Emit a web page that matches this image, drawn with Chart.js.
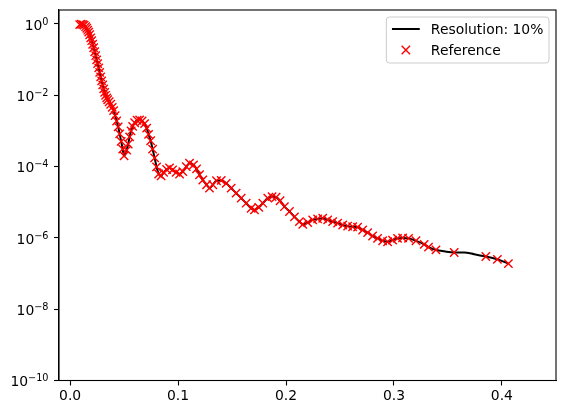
<!DOCTYPE html>
<html>
<head>
<meta charset="utf-8">
<script src="https://cdn.jsdelivr.net/npm/chart.js@4.4.1/dist/chart.umd.min.js"></script>
<style>
  html, body { margin: 0; padding: 0; background: #fff; }
  canvas { display: block; }
</style>
</head>
<body>
<canvas id="reflChart" width="565" height="413"></canvas>
<script>
// Reference reflectivity points (q, R)
var qRef = [0.0089,0.0103,0.0117,0.0130,0.0144,0.0154,0.0163,0.0172,0.0181,0.0191,
  0.0200,0.0209,0.0218,0.0228,0.0237,0.0246,0.0255,0.0265,0.0274,0.0283,
  0.0292,0.0302,0.0311,0.0320,0.0329,0.0339,0.0348,0.0362,0.0376,0.0390,
  0.0403,0.0417,0.0431,0.0445,0.0459,0.0473,0.0487,0.0500,0.0524,0.0538,
  0.0551,0.0565,0.0579,0.0598,0.0621,0.0644,0.0667,0.0690,0.0709,0.0727,
  0.0746,0.0764,0.0783,0.0801,0.0820,0.0843,0.0866,0.0894,0.0921,0.0949,
  0.0982,0.1014,0.1044,0.1076,0.1106,0.1143,0.1171,0.1199,0.1229,0.1264,
  0.1291,0.1322,0.1356,0.1400,0.1446,0.1492,0.1538,0.1585,0.1631,0.1677,
  0.1708,0.1748,0.1785,0.1831,0.1871,0.1908,0.1945,0.1985,0.2032,0.2078,
  0.2124,0.2155,0.2201,0.2247,0.2293,0.2340,0.2386,0.2432,0.2478,0.2525,
  0.2571,0.2617,0.2663,0.2710,0.2756,0.2802,0.2848,0.2895,0.2941,0.2987,
  0.3033,0.3080,0.3135,0.3204,0.3280,0.3320,0.3389,0.3558,0.3851,0.3958,0.4060];
var rRef = [0.96,0.99,0.96,0.925,0.84,0.76,0.67,0.59,0.50,0.41,
  0.34,0.27,0.216,0.167,0.129,0.099,0.077,0.059,0.044,0.033,
  0.0255,0.0197,0.0152,0.0121,0.0100,0.0085,0.0075,0.0066,0.0056,0.0046,
  0.0037,0.0027,0.0019,0.0013,8.3e-4,5.1e-4,3.1e-4,2.0e-4,2.9e-4,4.3e-4,
  6.8e-4,1.0e-3,1.35e-3,1.7e-3,2.0e-3,2.05e-3,1.9e-3,1.6e-3,1.2e-3,8.0e-4,
  5.3e-4,3.1e-4,1.75e-4,9.8e-5,6.2e-5,5.5e-5,6.9e-5,8.3e-5,9.2e-5,8.1e-5,
  6.9e-5,6.2e-5,7.2e-5,1.0e-4,1.25e-4,1.12e-4,8.6e-5,5.9e-5,4.2e-5,3.1e-5,
  2.5e-5,3.1e-5,4.0e-5,4.1e-5,3.4e-5,2.5e-5,1.8e-5,1.3e-5,9.4e-6,6.8e-6,
  6.1e-6,7.2e-6,9.4e-6,1.3e-5,1.44e-5,1.38e-5,1.1e-5,7.5e-6,5.5e-6,3.9e-6,
  2.85e-6,2.4e-6,2.7e-6,3.2e-6,3.4e-6,3.55e-6,3.2e-6,2.85e-6,2.6e-6,2.3e-6,
  2.15e-6,2.05e-6,2.0e-6,1.67e-6,1.4e-6,1.13e-6,9.7e-7,8.3e-7,7.8e-7,8.7e-7,
  9.7e-7,1.0e-6,9.7e-7,8.3e-7,6.6e-7,5.5e-7,4.6e-7,3.9e-7,3.0e-7,2.5e-7,1.9e-7];

// extra points of the smeared model curve where the reference is sparse
var qModelExtra = [0.3466, 0.3650, 0.3743];
var rModelExtra = [4.2e-7, 3.9e-7, 3.5e-7];

var seriesNames = ['Resolution: 10%', 'Reference'];

var xTickValues = [0, 0.1, 0.2, 0.3, 0.4];
var xTickLabels = ['0.0', '0.1', '0.2', '0.3', '0.4'];
var yTickValues = [1e-10, 1e-8, 1e-6, 1e-4, 1e-2, 1e0];
var yTickBase = '10';
var yTickExponents = ['\u221210', '\u22128', '\u22126', '\u22124', '\u22122', '0'];

var FONT = '"DejaVu Sans", "Liberation Sans", sans-serif';

var refPoints = qRef.map(function(q, i) { return {x: q, y: rRef[i]}; });
var modelPoints = refPoints.concat(qModelExtra.map(function(q, i) { return {x: q, y: rModelExtra[i]}; }))
  .sort(function(a, b) { return a.x - b.x; });

// axes frame, tick labels (with superscripts), legend box
var frameLegend = {
  id: 'frameLegend',
  afterDraw: function(chart) {
    var ctx = chart.ctx, a = chart.chartArea, xs = chart.scales.x, ys = chart.scales.y;
    ctx.save();
    ctx.strokeStyle = '#000';
    ctx.lineWidth = 1.1;
    ctx.strokeRect(a.left, a.top, a.right - a.left, a.bottom - a.top);

    ctx.fillStyle = '#000';
    ctx.textBaseline = 'alphabetic';

    // x tick labels
    ctx.font = '13.9px ' + FONT;
    ctx.textAlign = 'center';
    xTickValues.forEach(function(v, i) {
      ctx.fillText(xTickLabels[i], xs.getPixelForValue(v), a.bottom + 19.5);
    });

    // y tick labels: 10 with raised exponent
    ctx.textAlign = 'left';
    yTickValues.forEach(function(v, i) {
      var y = ys.getPixelForValue(v);
      ctx.font = '9.7px ' + FONT;
      var ew = ctx.measureText(yTickExponents[i]).width;
      ctx.font = '13.9px ' + FONT;
      var bw = ctx.measureText(yTickBase).width;
      var xr = a.left - 10.5;
      ctx.fillText(yTickBase, xr - ew - bw, y + 5.7);
      ctx.font = '9.7px ' + FONT;
      ctx.fillText(yTickExponents[i], xr - ew, y + 0.7);
    });

    // legend
    ctx.font = '13.9px ' + FONT;
    var tw = Math.max.apply(null, seriesNames.map(function(s) { return ctx.measureText(s).width; }));
    var pad = 5.6, handle = 27.8, gap = 11.1;
    var w = pad + handle + gap + tw + pad;
    var h = 46;
    var right = a.right - 7;
    var left = right - w;
    var top = a.top + 7;

    ctx.beginPath();
    ctx.roundRect(left, top, w, h, 3);
    ctx.fillStyle = 'rgba(255,255,255,0.8)';
    ctx.fill();
    ctx.strokeStyle = '#cccccc';
    ctx.lineWidth = 1;
    ctx.stroke();

    var row1 = top + 12, row2 = top + 33;
    ctx.beginPath();
    ctx.moveTo(left + pad, row1);
    ctx.lineTo(left + pad + handle, row1);
    ctx.strokeStyle = '#000';
    ctx.lineWidth = 2;
    ctx.stroke();

    var cx = left + pad + handle / 2, s = 4.2;
    ctx.beginPath();
    ctx.moveTo(cx - s, row2 - s); ctx.lineTo(cx + s, row2 + s);
    ctx.moveTo(cx + s, row2 - s); ctx.lineTo(cx - s, row2 + s);
    ctx.strokeStyle = '#ff0000';
    ctx.lineWidth = 1.4;
    ctx.stroke();

    ctx.fillStyle = '#000';
    ctx.textBaseline = 'middle';
    ctx.fillText(seriesNames[0], left + pad + handle + gap, row1 + 1);
    ctx.fillText(seriesNames[1], left + pad + handle + gap, row2 + 1);
    ctx.restore();
  }
};

var ctx = document.getElementById('reflChart').getContext('2d');
var reflChart = new Chart(ctx, {
  type: 'scatter',
  data: {
    datasets: [{
      type: 'line',
      label: seriesNames[0],
      data: modelPoints,
      borderColor: '#000',
      borderWidth: 2,
      pointRadius: 0,
      cubicInterpolationMode: 'monotone',
      fill: false,
      order: 1
    }, {
      label: seriesNames[1],
      data: refPoints,
      showLine: false,
      pointStyle: 'crossRot',
      pointRadius: 5.9,
      pointBorderWidth: 1.4,
      borderColor: '#ff0000',
      backgroundColor: '#ff0000',
      order: 0
    }]
  },
  options: {
    responsive: false,
    animation: false,
    devicePixelRatio: 1,
    layout: { padding: { top: 10, right: 9, left: 0, bottom: 0 } },
    plugins: { legend: { display: false }, tooltip: { enabled: false } },
    scales: {
      x: {
        type: 'linear',
        min: -0.0103,
        max: 0.4501,
        afterBuildTicks: function(s) { s.ticks = xTickValues.map(function(v) { return {value: v}; }); },
        afterFit: function(s) { s.height = 32.5; },
        ticks: { display: false },
        grid: { drawOnChartArea: false, tickLength: 5, color: '#000', tickWidth: 1.1 },
        border: { color: '#000', width: 1.1 }
      },
      y: {
        type: 'logarithmic',
        min: 1e-10,
        max: 2.47,
        afterBuildTicks: function(s) { s.ticks = yTickValues.map(function(v) { return {value: v}; }); },
        afterFit: function(s) { s.width = 59; },
        ticks: { display: false },
        grid: { drawOnChartArea: false, tickLength: 5, color: '#000', tickWidth: 1.1 },
        border: { color: '#000', width: 1.1 }
      }
    }
  },
  plugins: [frameLegend]
});
</script>
</body>
</html>
